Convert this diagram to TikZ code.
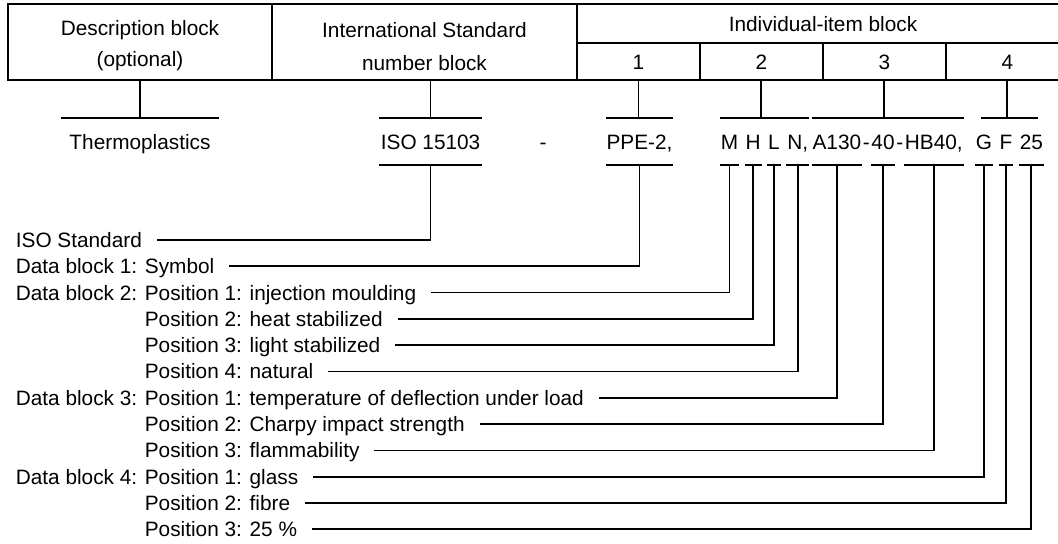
\documentclass[tikz,border=0pt]{standalone}
\usepackage{fontspec}
\setmainfont{Liberation Sans}
\usetikzlibrary{positioning}

\begin{document}
\begin{tikzpicture}[x=0.5pt, y=-0.5pt, line width=0.85pt, every node/.style={font=\fontsize{10.4pt}{16pt}\selectfont, inner sep=0pt}]
  \tikzset{head/.style={anchor=base, align=center},
    code/.style={anchor=west, text height=15.15pt, text depth=7.35pt},
    lbl/.style={anchor=west, text height=7.45pt, text depth=0pt}}
  \useasboundingbox (0,0) rectangle (1058,544);
  \clip (0,0) rectangle (1058,544);

  % table of blocks
  \draw (8,4) rectangle (272,80);
  \draw (272,4) rectangle (577,80);
  \draw (577,4) rectangle (1069,42.7);
  \draw (577,42.7) rectangle (700,80);
  \draw (700,42.7) rectangle (822.7,80);
  \draw (822.7,42.7) rectangle (946,80);
  \draw (946,42.7) rectangle (1069,80);
  \coordinate (tb) at (0,80);

  \node[head, font=\fontsize{10.4pt}{15.5pt}\selectfont] (desc) at (140,67) {Description block\\(optional)};
  \node[head, font=\fontsize{10.4pt}{16.5pt}\selectfont] (isn) at (424.5,71) {International Standard\\number block};
  \node[head] (indiv) at (823,31.7) {Individual-item block};
  \node[head] (c1) at (638.5,70) {1};
  \node[head] (c2) at (761.3,70) {2};
  \node[head] (c3) at (884.3,70) {3};
  \node[head] (c4) at (1007.3,70) {4};

  % designation
  \node[code, anchor=center] (thermo) at (140,141.5) {Thermoplastics};
  \node[code] (iso) at (380,141.5) {ISO 15103};
  \node[code, anchor=center] (dash) at (543,141.5) {-};
  \node[code] (ppe) at (605.7,141.5) {PPE-2,};
  \node[code] (m) at (720,141.5) {M};
  \node[code, right=2.9pt of m] (h) {H};
  \node[code, right=2.9pt of h] (l) {L};
  \node[code, right=2.9pt of l] (n) {N,};
  \node[code] (a) at (811.7,141.5) {A130};
  \node[code, right=0pt of a] (da) {-};
  \node[code, right=0pt of da] (forty) {40};
  \node[code, right=0pt of forty] (db) {-};
  \node[code, right=0pt of db] (hb) {HB40,};
  \node[code] (g) at (975,141.5) {G};
  \node[code, right=2.9pt of g] (f) {F};
  \node[code, right=2.9pt of f] (pct) {25};

  \draw ([xshift=-4pt]thermo.north west) -- ([xshift=4pt]thermo.north east);
  \draw ([xshift=-0.5pt]iso.north west) -- ([xshift=0.5pt]iso.north east);
  \draw ([xshift=-0.5pt]iso.south west) -- ([xshift=0.5pt]iso.south east);
  \draw (ppe.north west) -- (ppe.north east);
  \draw (ppe.south west) -- (ppe.south east);
  \draw (m.north west) -- (n.north east);
  \draw (a.north west) -- (hb.north east);
  \draw ([xshift=3pt]g.north west) -- ([xshift=-3pt]pct.north east);
  \draw (m.south west) -- (m.south east);
  \draw (h.south west) -- (h.south east);
  \draw (l.south west) -- (l.south east);
  \draw (n.south west) -- (n.south east);
  \draw (a.south west) -- (a.south east);
  \draw (forty.south west) -- (forty.south east);
  \draw (hb.south west) -- (hb.south east);
  \draw (g.south west) -- (g.south east);
  \draw (f.south west) -- (f.south east);
  \draw (pct.south west) -- (pct.south east);

  \draw (thermo.north) -- (thermo.north |- tb);
  \draw (iso.north) -- (iso.north |- tb);
  \draw (c1 |- ppe.north) -- (c1 |- tb);
  \draw (c2 |- m.north) -- (c2 |- tb);
  \draw (c3 |- a.north) -- (c3 |- tb);
  \draw (c4 |- g.north) -- (c4 |- tb);

  % key
  \node[lbl] (lstd) at (15,240) {ISO Standard};
  \node[lbl] (lsym) at (15,266.3) {Data block 1: Symbol};
  \node[lbl] (db2) at (15,292.6) {Data block 2:};
  \node[lbl] (l21) at (144,292.6) {Position 1: injection moulding};
  \node[lbl] (l22) at (144,318.9) {Position 2: heat stabilized};
  \node[lbl] (l23) at (144,345.2) {Position 3: light stabilized};
  \node[lbl] (l24) at (144,371.5) {Position 4: natural};
  \node[lbl] (db3) at (15,397.8) {Data block 3:};
  \node[lbl] (l31) at (144,397.8) {Position 1: temperature of deflection under load};
  \node[lbl] (l32) at (144,424.1) {Position 2: Charpy impact strength};
  \node[lbl] (l33) at (144,450.4) {Position 3: flammability};
  \node[lbl] (db4) at (15,476.7) {Data block 4:};
  \node[lbl] (l41) at (144,476.7) {Position 1: glass};
  \node[lbl] (l42) at (144,503) {Position 2: fibre};
  \node[lbl] (l43) at (144,529.3) {Position 3: 25 \%};

  \draw (iso.south) |- ([xshift=7pt]lstd.east);
  \draw (ppe.south) |- ([xshift=7pt]lsym.east);
  \draw (m.south) |- ([xshift=7pt]l21.east);
  \draw (h.south) |- ([xshift=7pt]l22.east);
  \draw (l.south) |- ([xshift=7pt]l23.east);
  \draw (n.south) |- ([xshift=7pt]l24.east);
  \draw (a.south) |- ([xshift=7pt]l31.east);
  \draw (forty.south) |- ([xshift=7pt]l32.east);
  \draw (hb.south) |- ([xshift=7pt]l33.east);
  \draw (g.south) |- ([xshift=7pt]l41.east);
  \draw (f.south) |- ([xshift=7pt]l42.east);
  \draw (pct.south) |- ([xshift=7pt]l43.east);
\end{tikzpicture}
\end{document}
